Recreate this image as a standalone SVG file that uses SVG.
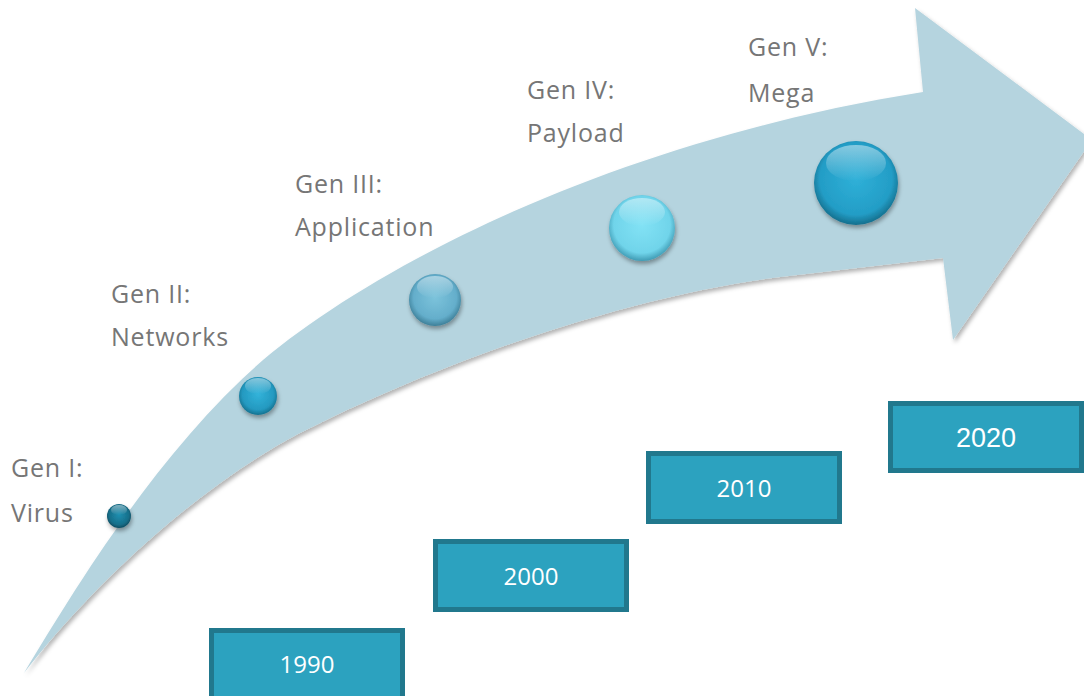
<svg xmlns="http://www.w3.org/2000/svg" width="1084" height="696" viewBox="0 0 1084 696">
  <defs>
    <style>
      .lbl { font-family: "Open Sans", "Noto Sans", sans-serif; font-size: 25px; fill: #767676; letter-spacing: 0.8px; }
      .yr { fill: #2ca2bf; stroke: #21788d; stroke-width: 5; }
      .yt { font-family: "Open Sans", "Noto Sans", sans-serif; font-size: 24px; fill: #ffffff; text-anchor: middle; }
      .yt2 { font-family: "Liberation Sans", Arial, sans-serif; font-size: 27px; fill: #ffffff; text-anchor: middle; }
    </style>
    <filter id="sh" x="-10%" y="-10%" width="120%" height="120%">
      <feDropShadow dx="2" dy="3" stdDeviation="2" flood-color="#000" flood-opacity="0.3"/>
    </filter>
    <filter id="bsh" x="-30%" y="-30%" width="160%" height="160%">
      <feDropShadow dx="1" dy="3" stdDeviation="2" flood-color="#000" flood-opacity="0.35"/>
    </filter>
    <radialGradient id="g1" cx="50%" cy="45%" r="55%">
      <stop offset="0" stop-color="#1e8fb0"/>
      <stop offset="0.75" stop-color="#176f8a"/>
      <stop offset="1" stop-color="#0e4c60"/>
    </radialGradient>
    <radialGradient id="g2" cx="50%" cy="45%" r="55%">
      <stop offset="0" stop-color="#32b3da"/>
      <stop offset="0.75" stop-color="#2499c0"/>
      <stop offset="1" stop-color="#14718f"/>
    </radialGradient>
    <radialGradient id="g3" cx="50%" cy="45%" r="55%">
      <stop offset="0" stop-color="#7cc3db"/>
      <stop offset="0.75" stop-color="#64aecb"/>
      <stop offset="1" stop-color="#3d7f98"/>
    </radialGradient>
    <radialGradient id="g4" cx="50%" cy="45%" r="55%">
      <stop offset="0" stop-color="#82e2f5"/>
      <stop offset="0.78" stop-color="#70d4ea"/>
      <stop offset="1" stop-color="#3f9bb4"/>
    </radialGradient>
    <radialGradient id="g5" cx="50%" cy="45%" r="55%">
      <stop offset="0" stop-color="#2fb0d8"/>
      <stop offset="0.78" stop-color="#239dc6"/>
      <stop offset="1" stop-color="#146e8c"/>
    </radialGradient>
    <linearGradient id="hl" x1="0" y1="0" x2="0" y2="1">
      <stop offset="0" stop-color="#fff" stop-opacity="0.45"/>
      <stop offset="1" stop-color="#fff" stop-opacity="0"/>
    </linearGradient>
  </defs>

  <g id="arrow">
    <path d="M24,673 C80,580 160,450 263,360 C380,262 620,140 923,92 L915,8 L1092,140 L953,340 L943,258 L780,277 C600,300 400,380 287,440 C180,500 80,600 24,673 Z" fill="#b5d4df" filter="url(#sh)"/>
  </g>

  <g id="connectors"></g>

  <g id="ball1" filter="url(#bsh)">
    <circle cx="119" cy="516" r="12" fill="url(#g1)"/>
    <ellipse cx="119" cy="510" rx="8" ry="5" fill="url(#hl)"/>
  </g>
  <g id="ball2" filter="url(#bsh)">
    <circle cx="258" cy="396" r="19" fill="url(#g2)"/>
    <ellipse cx="258" cy="386" rx="13" ry="8" fill="url(#hl)"/>
  </g>
  <g id="ball3" filter="url(#bsh)">
    <circle cx="435" cy="300" r="26" fill="url(#g3)"/>
    <ellipse cx="435" cy="287" rx="18" ry="11" fill="url(#hl)"/>
  </g>
  <g id="ball4" filter="url(#bsh)">
    <circle cx="642" cy="228" r="33" fill="url(#g4)"/>
    <ellipse cx="642" cy="212" rx="23" ry="14" fill="url(#hl)"/>
  </g>
  <g id="ball5" filter="url(#bsh)">
    <circle cx="856" cy="183" r="42" fill="url(#g5)"/>
    <ellipse cx="856" cy="163" rx="30" ry="18" fill="url(#hl)"/>
  </g>

  <g id="label1">
    <text class="lbl" x="11" y="477">Gen I:</text>
    <text class="lbl" x="11" y="522">Virus</text>
  </g>
  <g id="label2">
    <text class="lbl" x="111" y="303">Gen II:</text>
    <text class="lbl" x="111" y="346">Networks</text>
  </g>
  <g id="label3">
    <text class="lbl" x="295" y="193">Gen III:</text>
    <text class="lbl" x="295" y="236">Application</text>
  </g>
  <g id="label4">
    <text class="lbl" x="527" y="99">Gen IV:</text>
    <text class="lbl" x="527" y="142">Payload</text>
  </g>
  <g id="label5">
    <text class="lbl" x="748" y="56">Gen V:</text>
    <text class="lbl" x="748" y="102">Mega</text>
  </g>

  <g id="y1990">
    <rect class="yr" x="211.5" y="630.5" width="191" height="72"/>
    <text class="yt" x="307" y="673">1990</text>
  </g>
  <g id="y2000">
    <rect class="yr" x="435.5" y="541.5" width="191" height="68"/>
    <text class="yt" x="531" y="585">2000</text>
  </g>
  <g id="y2010">
    <rect class="yr" x="648.5" y="453.5" width="191" height="68"/>
    <text class="yt" x="744" y="497">2010</text>
  </g>
  <g id="y2020">
    <rect class="yr" x="890.5" y="403.5" width="191" height="67"/>
    <text class="yt2" x="986" y="447">2020</text>
  </g>
</svg>
